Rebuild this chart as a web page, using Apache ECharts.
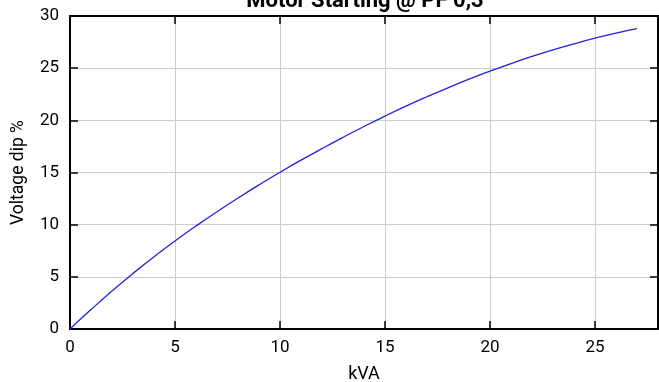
<!DOCTYPE html>
<html>
<head>
<meta charset="utf-8">
<script src="https://cdn.jsdelivr.net/npm/echarts@6/dist/echarts.min.js"></script>
<style>
  html, body { margin: 0; padding: 0; background: #fff; }
  #chart { width: 659px; height: 382px; }
</style>
</head>
<body>
<div id="chart"></div>
<script>
var kva = [0, 1, 2, 3, 4, 5, 6, 7, 8, 9, 10, 11, 12, 13, 14, 15, 16, 17, 18, 19, 20, 21, 22, 23, 24, 25, 26, 27];
var dip = [0, 1.86, 3.64, 5.33, 6.93, 8.44, 9.87, 11.24, 12.55, 13.81, 15.02, 16.18, 17.29, 18.37, 19.41, 20.41,
           21.36, 22.26, 23.12, 23.94, 24.71, 25.44, 26.12, 26.75, 27.33, 27.87, 28.36, 28.78];

var chart = echarts.init(document.getElementById('chart'));
var font = 'Roboto';

var pts = kva.map(function (k, i) { return [k, dip[i]]; });

var frameLine = { show: true, onZero: false, lineStyle: { color: '#000', width: 2 } };
var tick = { show: true, inside: true, length: 8, lineStyle: { color: '#000', width: 1.5 } };

var option = {
  animation: false,
  title: {
    text: 'Motor Starting @ PF 0,3',
    left: 360,
    textAlign: 'center',
    top: -15,
    textStyle: { fontFamily: font, fontSize: 22, fontWeight: 'bold', color: '#000' }
  },
  grid: { left: 70, right: 1, top: 16, bottom: 53, containLabel: false, outerBoundsMode: 'none' },
  xAxis: [{
    type: 'value', min: 0, max: 28, interval: 5, position: 'bottom',
    name: 'kVA', nameLocation: 'middle', nameGap: 36,
    nameTextStyle: { fontFamily: font, fontSize: 18, color: '#000' },
    axisLine: frameLine,
    axisTick: tick,
    axisLabel: {
      fontFamily: font, fontSize: 17, color: '#000', margin: 10,
      formatter: function (v) { return v % 5 === 0 ? String(v) : ''; }
    },
    splitLine: { show: true, lineStyle: { color: '#cccccc', width: 1 } }
  }, {
    type: 'value', min: 0, max: 28, interval: 5, position: 'top',
    axisLine: frameLine,
    axisTick: tick,
    axisLabel: { show: false },
    splitLine: { show: false }
  }],
  yAxis: [{
    type: 'value', min: 0, max: 30, interval: 5, position: 'left',
    name: 'Voltage dip %', nameLocation: 'middle', nameGap: 42,
    nameTextStyle: { fontFamily: font, fontSize: 17.5, color: '#000' },
    axisLine: frameLine,
    axisTick: tick,
    axisLabel: { fontFamily: font, fontSize: 17, color: '#000', margin: 11 },
    splitLine: { show: true, lineStyle: { color: '#cccccc', width: 1 } }
  }, {
    type: 'value', min: 0, max: 30, interval: 5, position: 'right',
    axisLine: frameLine,
    axisTick: tick,
    axisLabel: { show: false },
    splitLine: { show: false }
  }],
  series: [{
    type: 'line',
    data: pts,
    smooth: true,
    showSymbol: false,
    lineStyle: { color: '#2222dd', width: 1.3 }
  }]
};

chart.setOption(option);
</script>
</body>
</html>
